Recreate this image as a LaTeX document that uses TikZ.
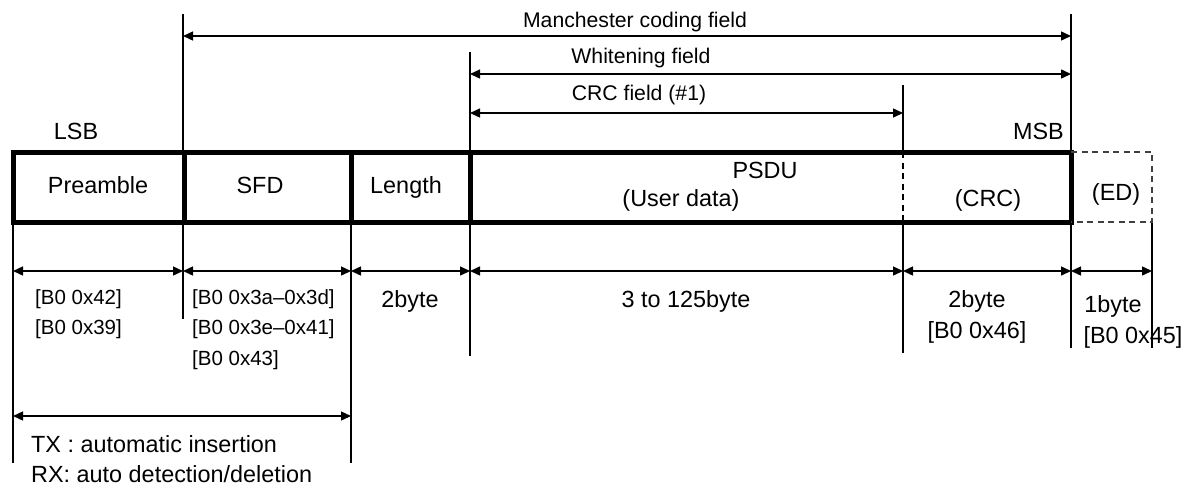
\documentclass[tikz,border=0pt]{standalone}
\usepackage{fontspec}
\setmainfont{Liberation Sans}
\usetikzlibrary{arrows.meta}

\begin{document}
\begin{tikzpicture}[x=1pt,y=-1pt,>={Triangle[length=10pt,width=9pt]},
    lbl/.style={font=\fontsize{23.4}{28}\selectfont,inner sep=0pt,anchor=base},
    toplbl/.style={font=\fontsize{21.2}{25}\selectfont,inner sep=0pt,anchor=base},
    codelbl/.style={font=\fontsize{20.5}{25}\selectfont,inner sep=0pt,anchor=base west},
    rule/.style={line width=1.4pt},
    frame/.style={line width=5pt},
    dashrule/.style={line width=1.4pt,dash pattern=on 6pt off 4.5pt}]
    \useasboundingbox (0,0) rectangle (1188,488);

    % field borders: top, bottom and dimension point of each line
    \foreach \n/\x/\t/\b in {pre/13/222/463,sfd/183/14/319,len/351/222/463,
                             psdu/470/52/356,msb/1071/14/348,ed/1152/222/348} {
      \coordinate (\n-t) at (\x,\t);
      \coordinate (\n-b) at (\x,\b);
      \coordinate (\n-d) at (\x,271);
      \draw[rule] (\n-t) -- (\n-b);
    };
    \coordinate (crc-t)  at (903,85);
    \coordinate (crc-bt) at (903,152);
    \coordinate (crc-bb) at (903,222);
    \coordinate (crc-b)  at (903,353);
    \coordinate (crc-d)  at (903,271);
    \draw[rule] (crc-t) -- (crc-bt);
    \draw[dashrule] (crc-bt) -- (crc-bb);
    \draw[rule] (crc-bb) -- (crc-b);

    % frame
    \draw[frame] (13,152) rectangle (1071,222);
    \foreach \x in {184,351,470} {\draw[frame] (\x,152) -- (\x,222);};
    \draw[dashrule,black!75] (1071,152) -- (1152,152) -- (1152,222) -- (1071,222);

    % field arrows
    \coordinate (man-l) at (183,36);  \coordinate (man-r) at (1071,36);
    \coordinate (whi-l) at (470,74);  \coordinate (whi-r) at (1071,74);
    \coordinate (crf-l) at (470,113); \coordinate (crf-r) at (903,113);
    \coordinate (tx-l)  at (13,416);  \coordinate (tx-r)  at (351,416);
    \path[rule] (man-l) edge[<->] (man-r)
                (whi-l) edge[<->] (whi-r)
                (crf-l) edge[<->] (crf-r)
                (tx-l)  edge[<->] (tx-r);
    \foreach \a/\b in {pre/sfd,sfd/len,len/psdu,psdu/crc,crc/msb,msb/ed} {
      \draw[rule,<->] (\a-d) -- (\b-d);
    };

    % labels
    \node[toplbl] (manch) at (635,27)  {Manchester coding field};
    \node[toplbl] (whit)  at (641,63)  {Whitening field};
    \node[toplbl] (crcf)  at (639,100) {CRC field (\#1)};
    \node[lbl] (lsb) at (76,139) {LSB};
    \node[lbl,anchor=base east] (msb) at (1064,139) {MSB};
    \node[lbl] (preamble) at (98,193)  {Preamble};
    \node[lbl] (sfd)      at (260,193) {SFD};
    \node[lbl] (length)   at (406,193) {Length};
    \node[lbl] (psdu)     at (765,178) {PSDU};
    \node[lbl] (user)     at (681,206) {(User data)};
    \node[lbl] (crcl)     at (988,206) {(CRC)};
    \node[lbl] (edl)      at (1116,200) {(ED)};

    \node[codelbl] (pre-c1) at (35,304) {[B0 0x42]};
    \node[codelbl] (pre-c2) at (35,334) {[B0 0x39]};
    \node[codelbl] (sfd-c1) at (192,304) {[B0 0x3a--0x3d]};
    \node[codelbl] (sfd-c2) at (192,334) {[B0 0x3e--0x41]};
    \node[codelbl] (sfd-c3) at (192,365) {[B0 0x43]};
    \node[lbl] (len-s)  at (410,307) {2byte};
    \node[lbl] (psdu-s) at (686,307) {3 to 125byte};
    \node[lbl] (crc-s)  at (977,307) {2byte};
    \node[lbl] (crc-c)  at (977,338) {[B0 0x46]};
    \node[lbl] (ed-s)   at (1113,312) {1byte};
    \node[lbl] (ed-c)   at (1133,343) {[B0 0x45]};
    \node[lbl,anchor=base west] (tx) at (31,452) {TX : automatic insertion};
    \node[lbl,anchor=base west] (rx) at (31,482) {RX: auto detection/deletion};
\end{tikzpicture}
\end{document}
